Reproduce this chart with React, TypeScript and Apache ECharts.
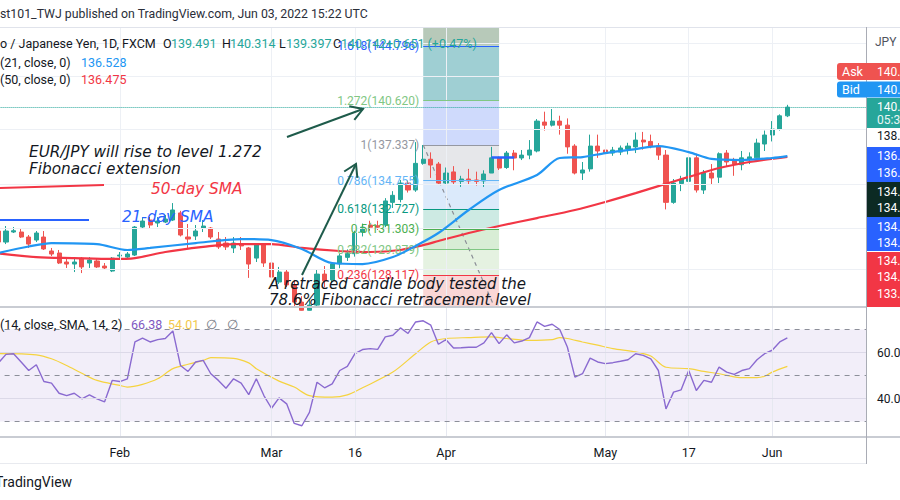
import React, { useEffect, useRef } from "react";
import * as echarts from "echarts";

// ---------------- data ----------------
const firstDay = "2022-01-10"; // first visible daily bar
const categoryCount = 115; // 105 bars + empty space on the right

// [open, high, low, close] – one row per trading day from Jan 10 to Jun 3 2022
const ohlc: number[][] = [
  [131.18, 131.39, 130.2, 130.41], [130.41, 131.53, 130.27, 131.18], [131.11, 131.46, 131.04, 131.2],
  [131.11, 131.39, 130.69, 130.76], [130.76, 130.9, 130.0, 130.27], [130.55, 131.18, 130.41, 131.04],
  [130.76, 131.18, 129.86, 129.93], [129.79, 130.0, 129.44, 129.58], [129.65, 129.86, 128.89, 128.96],
  [129.03, 129.3, 128.62, 128.89], [128.89, 129.24, 128.34, 129.03], [129.3, 129.37, 128.27, 128.69],
  [128.96, 129.37, 128.62, 129.17], [129.1, 129.3, 128.62, 128.69], [128.75, 128.96, 128.48, 128.62],
  [128.41, 129.37, 128.34, 129.3], [129.44, 129.72, 129.17, 129.51], [129.37, 129.72, 129.3, 129.58],
  [129.51, 131.53, 129.44, 131.46], [131.46, 132.16, 131.32, 131.88], [131.95, 132.16, 131.32, 131.6],
  [131.74, 132.16, 131.46, 131.88], [131.81, 132.3, 131.74, 132.02], [131.95, 133.15, 131.88, 132.66],
  [132.45, 132.6, 130.8, 130.9], [130.76, 131.67, 130.0, 130.62], [130.83, 131.6, 130.55, 131.18],
  [131.39, 131.95, 131.11, 131.53], [131.39, 131.46, 130.62, 130.76], [130.62, 131.11, 129.93, 130.07],
  [130.34, 130.76, 129.86, 130.07], [130.0, 130.76, 129.65, 130.34], [130.27, 130.76, 129.86, 130.14],
  [130.0, 130.07, 127.94, 128.89], [129.3, 130.34, 129.03, 130.27], [130.27, 130.27, 128.69, 128.96],
  [128.96, 129.03, 127.87, 128.0], [127.66, 128.69, 127.53, 128.34], [128.34, 128.48, 127.32, 127.46],
  [127.46, 127.8, 125.77, 126.3], [126.3, 126.7, 124.4, 125.75], [125.75, 126.5, 125.0, 126.1],
  [126.1, 128.5, 125.9, 128.2], [128.2, 128.75, 127.3, 127.75], [127.8, 129.0, 127.6, 128.9],
  [128.9, 129.6, 128.6, 129.45], [129.35, 129.9, 129.1, 129.65], [129.6, 131.2, 129.4, 131.04],
  [131.1, 131.7, 130.8, 131.45], [131.6, 131.9, 131.2, 131.45], [131.55, 131.9, 131.25, 131.45],
  [131.6, 133.5, 131.45, 133.3], [133.2, 134.0, 132.8, 133.7], [133.4, 134.8, 133.2, 134.58],
  [134.58, 134.75, 133.9, 134.08], [134.08, 137.55, 133.95, 136.0], [136.0, 137.337, 135.9, 136.3],
  [136.3, 136.8, 134.95, 135.88], [135.95, 136.1, 134.44, 134.58], [134.58, 135.7, 134.44, 135.3],
  [135.38, 135.8, 134.5, 134.66], [134.7, 135.1, 134.3, 134.87], [134.87, 135.6, 134.5, 134.73],
  [134.8, 135.4, 134.4, 134.7], [134.73, 135.5, 134.3, 135.23], [135.3, 137.2, 135.3, 136.4],
  [136.39, 136.5, 135.52, 135.66], [135.7, 136.9, 135.6, 136.75], [136.75, 136.97, 135.5, 136.39],
  [136.39, 136.97, 136.24, 136.6], [136.6, 137.7, 136.3, 136.97], [136.9, 139.25, 136.8, 139.1],
  [139.03, 139.8, 138.4, 138.8], [138.8, 140.0, 138.7, 139.1], [139.1, 139.5, 138.1, 138.8],
  [138.8, 139.3, 136.7, 137.2], [137.26, 137.4, 135.2, 135.3], [135.3, 136.1, 134.8, 135.52],
  [135.6, 138.1, 135.4, 137.26], [137.26, 138.1, 136.4, 136.9], [136.97, 137.4, 136.6, 136.75],
  [136.75, 137.2, 136.55, 136.97], [136.82, 137.3, 136.6, 137.12], [137.04, 137.5, 136.65, 137.26],
  [137.2, 138.26, 136.75, 137.7], [137.7, 138.3, 137.0, 137.56], [137.6, 138.1, 137.1, 137.26],
  [137.26, 137.48, 136.25, 136.6], [136.6, 136.97, 132.7, 133.2], [133.2, 134.87, 133.1, 134.58],
  [134.55, 135.1, 134.0, 134.87], [134.7, 136.6, 134.5, 136.4], [136.4, 136.7, 133.9, 134.08],
  [134.08, 135.52, 133.8, 135.3], [135.3, 135.95, 134.5, 134.94], [135.0, 136.8, 134.58, 136.7],
  [136.75, 136.97, 135.8, 136.1], [136.24, 136.4, 135.1, 135.95], [135.9, 136.9, 135.5, 136.4],
  [136.3, 136.8, 135.95, 136.47], [136.4, 137.8, 136.3, 137.48], [137.41, 138.4, 136.9, 138.07],
  [138.07, 139.1, 137.6, 138.51], [138.5, 139.6, 138.4, 139.491], [139.491, 140.314, 139.397, 140.142],
];

// 21-day and 50-day SMA, read at [bar index, value]
const sma21Points: number[][] = [
  [0, 129.65], [4, 130.1], [7, 130.34], [13, 130.27], [17, 129.86], [20, 130.0], [26, 130.34], [32, 130.62],
  [36, 130.55], [40, 129.93], [44, 128.96], [48, 128.89], [52, 129.37], [55, 130.14], [58, 131.04],
  [62, 132.66], [66, 134.08], [71, 135.16], [74, 136.39], [77, 136.46], [80, 136.75], [84, 137.04],
  [87, 137.26], [91, 136.82], [94, 136.32], [98, 136.24], [102, 136.39], [104, 136.528],
];
const sma50Points: number[][] = [
  [0, 129.62], [5, 129.37], [10, 129.3], [15, 129.24], [18, 129.3], [22, 129.72], [27, 130.07],
  [31, 130.27], [36, 130.27], [40, 130.0], [45, 129.79], [49, 129.72], [53, 129.86], [56, 130.2],
  [58, 130.48], [62, 131.04], [66, 131.53], [71, 132.09], [76, 132.66], [80, 133.23], [84, 133.86],
  [87, 134.36], [91, 135.02], [95, 135.66], [99, 136.1], [104, 136.475],
];

// RSI(14), one value per bar
const rsiValues: number[] = [
  55.5, 59.2, 59.5, 55.9, 52.2, 54.7, 47.4, 46.7, 42.3, 41.3, 42.3, 39.9, 41.6, 39.9, 38.6, 47.9,
  47.4, 48.6, 64.6, 66.3, 64.6, 65.6, 66.1, 69.4, 54.4, 51.8, 55.9, 56.6, 50.8, 47.9, 44.5, 48.6,
  46.7, 41.7, 48.6, 41.3, 35.8, 40.3, 37.7, 29.2, 28.2, 34.0, 47.1, 44.7, 46.4, 52.2, 54.0, 59.5,
  61.3, 61.7, 61.4, 66.8, 67.5, 70.7, 68.3, 73.3, 73.8, 71.9, 63.6, 65.6, 62.0, 62.1, 62.3, 62.3,
  64.2, 68.7, 63.9, 67.7, 64.2, 65.0, 66.5, 73.3, 71.4, 72.3, 70.0, 62.4, 49.3, 50.8, 57.6, 55.9,
  55.2, 55.6, 56.2, 56.9, 59.5, 58.8, 57.3, 52.2, 35.5, 42.8, 43.8, 52.2, 43.5, 47.9, 47.1, 53.7,
  51.5, 50.5, 52.2, 53.0, 56.9, 59.5, 61.0, 64.6, 66.38,
];
// RSI-based SMA(14), read at [bar index, value]
const rsiMaPoints: number[][] = [
  [0, 59.5], [5, 59.0], [7, 57.3], [9, 54.4], [11, 51.0], [13, 47.9], [16, 45.7], [17, 45.0],
  [19, 46.2], [21, 48.6], [23, 53.0], [25, 54.9], [27, 56.6], [28, 57.8], [31, 57.5], [33, 55.5],
  [34, 53.0], [37, 47.6], [39, 45.0], [41, 41.3], [44, 40.6], [46, 41.6], [48, 44.7], [52, 51.5],
  [55, 59.5], [57, 64.6], [59, 66.1], [62, 66.5], [65, 66.8], [67, 66.1], [70, 65.3], [73, 65.6],
  [74, 66.5], [75, 66.1], [77, 64.6], [79, 63.2], [81, 61.7], [84, 60.3], [86, 58.5], [88, 53.6],
  [91, 53.0], [93, 51.8], [95, 50.8], [96, 50.1], [98, 49.1], [100, 49.1], [101, 49.7], [102, 51.5],
  [104, 54.01],
];

const timeTicks: string[][] = [
  ["2022-02-01", "Feb"], ["2022-03-01", "Mar"], ["2022-03-16", "16"], ["2022-04-01", "Apr"],
  ["2022-05-02", "May"], ["2022-05-17", "17"], ["2022-06-01", "Jun"],
];

const priceMin = 125.97;
const priceMax = 146.26;
const priceGrid = [128.5, 131.4, 134.5, 138.5, 142.5, 145.0];
const priceTicks = [138];
const rsiMin = 23.3;
const rsiMax = 79.8;
const rsiDashed = [70, 50, 30];
const rsiSolid = [60, 40];
const rsiTicks = [40, 60];
const askPrice = 140.157;

const fibStart = "2022-03-29";
const fibEnd = "2022-04-12";
const fibLevels = [1.618, 1.272, 1, 0.786, 0.618, 0.5, 0.382, 0.236, 0];
const fibPrices = [144.796, 140.62, 137.337, 134.755, 132.727, 131.303, 129.879, 128.117, 125.269];
const fibLineColors = ["#2962ff", "#81c784", "#9598a1", "#64b5f6", "#089981", "#4caf50", "#81c784", "#f23645", "#787b86"];
const fibFillColors = ["#b7c9b9", "#9fcfd3", "#cfdafc", "#e6e7ea", "#dbeafb", "#cdeae3", "#d8edd5", "#e5f2e1", "#fad7d6"];
const blueSegment = { from: "2022-04-11", to: "2022-04-14", price: 136.48 };

// ---------------- helpers ----------------
function buildDates(start: string, n: number): string[] {
  const out: string[] = [];
  const d = new Date(start + "T00:00:00Z");
  while (out.length < n) {
    const wd = d.getUTCDay();
    if (wd !== 0 && wd !== 6) out.push(d.toISOString().slice(0, 10));
    d.setUTCDate(d.getUTCDate() + 1);
  }
  return out;
}

const UI_FONT = "Roboto, 'Liberation Sans', sans-serif";
const NOTE_FONT = "'DejaVu Sans', sans-serif";
const UP = "#26a69a";
const DOWN = "#ef5350";

function txt(text: string, x: number, y: number, style: any = {}) {
  return {
    type: "text",
    x,
    y,
    z: 100,
    silent: true,
    style: { text, fontFamily: UI_FONT, fontSize: 12.5, fill: "#131722", verticalAlign: "middle", align: "left", ...style },
  };
}
function seg(x1: number, y1: number, x2: number, y2: number, stroke: string, lineWidth = 1, z = 100) {
  return { type: "line", z, silent: true, shape: { x1, y1, x2, y2 }, style: { stroke, lineWidth } };
}
function arrow(x1: number, y1: number, x2: number, y2: number, color: string) {
  const ang = Math.atan2(y2 - y1, x2 - x1);
  const L = 14;
  const a = 0.55;
  const p1 = [x2 - L * Math.cos(ang - a), y2 - L * Math.sin(ang - a)];
  const p2 = [x2 - L * Math.cos(ang + a), y2 - L * Math.sin(ang + a)];
  return [
    seg(x1, y1, x2, y2, color, 2),
    { type: "polyline", z: 100, silent: true, shape: { points: [p1, [x2, y2], p2] }, style: { stroke: color, lineWidth: 2, fill: null } },
  ];
}
function box(x: number, y: number, w: number, h: number, fill: string, r: any = 0) {
  return { type: "rect", z: 100, silent: true, shape: { x, y, width: w, height: h, r }, style: { fill } };
}

export default function App() {
  const ref = useRef<HTMLDivElement>(null);

  useEffect(() => {
    if (!ref.current) return;
    const chart = echarts.init(ref.current, undefined, { renderer: "svg" });

    const dates = buildDates(firstDay, categoryCount);
    const tickMap = new Map(timeTicks.map((t) => [t[0], t[1]]));
    // candles: [open, close, low, high]; wicks below the visible pane are cut at its bottom edge
    const candles = ohlc.map((r) => [r[0], r[3], Math.max(r[2], priceMin), r[1]]);
    const last = ohlc[ohlc.length - 1];
    const prevClose = ohlc[ohlc.length - 2][3];
    const chg = last[3] - prevClose;
    const chgPct = (chg / prevClose) * 100;
    const sma21Last = sma21Points[sma21Points.length - 1][1];
    const sma50Last = sma50Points[sma50Points.length - 1][1];
    const rsiLast = rsiValues[rsiValues.length - 1];
    const rsiMaLast = rsiMaPoints[rsiMaPoints.length - 1][1];

    const vGrid = timeTicks.map((t) => ({ xAxis: t[0], lineStyle: { color: "#edf0f5", width: 1, type: "solid" } }));
    const hGrid = priceGrid.map((p) => ({ yAxis: p, lineStyle: { color: "#edf0f5", width: 1, type: "solid" } }));

    const fibAreas = fibPrices.map((p, i) => {
      const upper = i === 0 ? priceMax : fibPrices[i - 1];
      const lower = Math.max(p, priceMin);
      return [
        { coord: [fibStart, upper], itemStyle: { color: fibFillColors[i], opacity: 1 } },
        { coord: [fibEnd, lower] },
      ];
    });

    const fibLines = fibLevels
      .map((lvl, i) => ({ lvl, price: fibPrices[i], color: fibLineColors[i] }))
      .filter((f) => f.price >= priceMin && f.price <= priceMax)
      .map((f) => [
        {
          coord: [fibStart, f.price],
          lineStyle: { color: f.color, width: 1, type: "solid" },
          label: {
            show: true,
            position: "start",
            formatter: `${f.lvl}(${f.price.toFixed(3)})`,
            color: f.color,
            fontSize: 12,
            fontFamily: UI_FONT,
            distance: 4,
            padding: [0, 0, 13, 0],
          },
        },
        { coord: [fibEnd, f.price] },
      ]);

    const option: any = {
      animation: false,
      backgroundColor: "#ffffff",
      textStyle: { fontFamily: UI_FONT },
      grid: [
        { left: -5.4, top: 27, width: 872.4, height: 280, containLabel: false, outerBoundsMode: "none" },
        { left: -5.4, top: 307, width: 872.4, height: 130, containLabel: false, outerBoundsMode: "none" },
      ],
      xAxis: [
        {
          type: "category", gridIndex: 0, data: dates, boundaryGap: true,
          axisLine: { show: false }, axisTick: { show: false }, axisLabel: { show: false }, splitLine: { show: false },
        },
        {
          type: "category", gridIndex: 1, data: dates, boundaryGap: true,
          axisLine: { show: false }, axisTick: { show: false }, splitLine: { show: false },
          axisLabel: {
            interval: (_i: number, v: string) => tickMap.has(v),
            formatter: (v: string) => tickMap.get(v) || "",
            color: "#131722", fontSize: 12.5, margin: 9, fontFamily: UI_FONT,
          },
        },
      ],
      yAxis: [
        {
          type: "log", gridIndex: 0, min: priceMin, max: priceMax, position: "right",
          axisLine: { show: false }, axisTick: { show: false }, splitLine: { show: false },
          axisLabel: {
            customValues: priceTicks, inside: false, margin: 10, color: "#131722", fontSize: 12,
            formatter: (v: number) => v.toFixed(3),
          },
        },
        {
          type: "value", gridIndex: 1, min: rsiMin, max: rsiMax, position: "right",
          axisLine: { show: false }, axisTick: { show: false }, splitLine: { show: false },
          axisLabel: {
            customValues: rsiTicks, margin: 10, color: "#131722", fontSize: 12,
            formatter: (v: number) => v.toFixed(2),
          },
        },
      ],
      series: [
        {
          name: "priceGrid", type: "line", xAxisIndex: 0, yAxisIndex: 0, data: [], silent: true, z: 0,
          markLine: { silent: true, symbol: ["none", "none"], label: { show: false }, data: [...vGrid, ...hGrid] },
          markArea: { silent: true, data: fibAreas },
        },
        {
          name: "fibTrend", type: "line", xAxisIndex: 0, yAxisIndex: 0, z: 2, symbol: "none", silent: true, clip: true,
          data: [[fibStart, fibPrices[2]], [fibEnd, fibPrices[8]]],
          lineStyle: { color: "#8a8d96", type: [4, 4], width: 1.2 },
        },
        {
          name: "EURJPY", type: "candlestick", xAxisIndex: 0, yAxisIndex: 0, data: candles, barWidth: 4.6, z: 3,
          clip: true,
          itemStyle: { color: UP, color0: DOWN, borderColor: UP, borderColor0: DOWN, borderWidth: 1 },
          markLine: {
            silent: true, symbol: ["none", "none"], label: { show: false },
            data: [
              { yAxis: last[3], lineStyle: { color: UP, type: "dotted", width: 1 }, label: { show: false } },
              ...fibLines,
              [
                { coord: [blueSegment.from, blueSegment.price], lineStyle: { color: "#2962ff", type: "solid", width: 2.5 } },
                { coord: [blueSegment.to, blueSegment.price] },
              ],
            ],
          },
        },
        {
          name: "SMA50", type: "line", xAxisIndex: 0, yAxisIndex: 0, z: 4, smooth: 0.3, symbol: "none",
          data: sma50Points.map((p) => [dates[p[0]], p[1]]),
          lineStyle: { color: "#f23645", width: 2.2 },
        },
        {
          name: "SMA21", type: "line", xAxisIndex: 0, yAxisIndex: 0, z: 5, smooth: 0.3, symbol: "none",
          data: sma21Points.map((p) => [dates[p[0]], p[1]]),
          lineStyle: { color: "#2196f3", width: 2.2 },
        },
        {
          name: "rsiGrid", type: "line", xAxisIndex: 1, yAxisIndex: 1, data: [], silent: true, z: 0,
          markArea: { silent: true, data: [[{ yAxis: 30, itemStyle: { color: "rgba(126,87,194,0.1)" } }, { yAxis: 70 }]] },
          markLine: {
            silent: true, symbol: ["none", "none"], label: { show: false },
            data: [
              ...timeTicks.map((t) => ({ xAxis: t[0], lineStyle: { color: "#e6e8f0", width: 1, type: "solid" } })),
              ...rsiSolid.map((v) => ({ yAxis: v, lineStyle: { color: "#dcd9e8", width: 1, type: "solid" } })),
              ...rsiDashed.map((v) => ({ yAxis: v, lineStyle: { color: "#8c8f99", width: 1, type: [5, 5] } })),
            ],
          },
        },
        {
          name: "RSI", type: "line", xAxisIndex: 1, yAxisIndex: 1, z: 4, symbol: "none",
          data: rsiValues.map((v, i) => [dates[i], v]),
          lineStyle: { color: "#8a6ad0", width: 1.4 },
        },
        {
          name: "RSI MA", type: "line", xAxisIndex: 1, yAxisIndex: 1, z: 3, symbol: "none", smooth: 0.3,
          data: rsiMaPoints.map((p) => [dates[p[0]], p[1]]),
          lineStyle: { color: "#f5d33f", width: 1.2 },
        },
      ],
      graphic: [
        // frame
        seg(0, 27.5, 900, 27.5, "#e0e3eb", 1),
        seg(0, 307, 866, 307, "#c9ccd3", 2),
        seg(0, 437, 900, 437, "#c9ccd3", 2),
        seg(0, 463.5, 866, 463.5, "#e8eaef", 1),
        seg(866.5, 27, 866.5, 464, "#a9acb5", 1),
        // header
        txt("st101_TWJ published on TradingView.com, Jun 03, 2022 15:22 UTC", 0, 14, { fontSize: 12.3, fill: "#2a2e39" }),
        txt("o / Japanese Yen, 1D, FXCM", 0, 43),
        txt("O", 163, 43), txt(last[0].toFixed(3), 171, 43, { fill: UP }),
        txt("H", 222, 43), txt(last[1].toFixed(3), 230, 43, { fill: UP }),
        txt("L", 279, 43), txt(last[2].toFixed(3), 286, 43, { fill: UP }),
        txt("C", 333, 43), txt(last[3].toFixed(3), 341, 43, { fill: UP }),
        txt(`+${chg.toFixed(3)} (+${chgPct.toFixed(2)}%)`, 386, 43, { fill: UP }),
        txt("(21, close, 0)", 0, 62), txt(sma21Last.toFixed(3), 81, 62, { fill: "#2196f3" }),
        txt("(50, close, 0)", 0, 79), txt(sma50Last.toFixed(3), 81, 79, { fill: "#f23645" }),
        txt("(14, close, SMA, 14, 2)", 0, 324),
        txt(rsiLast.toFixed(2), 131, 324, { fill: "#7e57c2" }),
        txt(rsiMaLast.toFixed(2), 168, 324, { fill: "#f2c94c" }),
        txt("∅", 206, 324, { fill: "#787b86" }),
        txt("∅", 227, 324, { fill: "#787b86" }),
        txt("TradingView", -5, 482, { fontSize: 14, fill: "#131722" }),
        // annotations
        txt("EUR/JPY will rise to level 1.272", 29, 152, { fontFamily: NOTE_FONT, fontStyle: "italic", fontSize: 15.3 }),
        txt("Fibonacci extension", 29, 169, { fontFamily: NOTE_FONT, fontStyle: "italic", fontSize: 15.3 }),
        txt("50-day SMA", 151, 189, { fontFamily: NOTE_FONT, fontStyle: "italic", fontSize: 15.3, fill: "#f23645" }),
        txt("21-day SMA", 122, 217, { fontFamily: NOTE_FONT, fontStyle: "italic", fontSize: 15.3, fill: "#2962ff" }),
        txt("A retraced candle body tested the", 269, 284, { fontFamily: NOTE_FONT, fontStyle: "italic", fontSize: 15 }),
        txt("78.6% Fibonacci retracement level", 269, 300, { fontFamily: NOTE_FONT, fontStyle: "italic", fontSize: 15 }),
        seg(0, 188, 104, 185, "#f23645", 2),
        seg(0, 220, 89, 220, "#2962ff", 2),
        ...arrow(287, 137, 363, 109, "#1e5b4b"),
        ...arrow(302, 275, 356, 164, "#1e5b4b"),
        // right price scale
        txt("JPY", 875, 42, { fill: "#50535e", fontSize: 12 }),
        box(837, 63, 80, 17, "#ef5350", [3, 0, 0, 3]),
        txt("Ask", 842, 71.5, { fill: "#ffffff", fontSize: 12.5 }),
        txt(askPrice.toFixed(3), 877, 71.5, { fill: "#ffffff", fontSize: 12 }),
        box(837, 81.5, 80, 16, "#2196f3", [3, 0, 0, 3]),
        txt("Bid", 842, 89.5, { fill: "#ffffff", fontSize: 12.5 }),
        txt(last[3].toFixed(3), 877, 89.5, { fill: "#ffffff", fontSize: 12 }),
        box(867, 98, 40, 30, UP),
        txt(last[3].toFixed(3), 877, 107, { fill: "#ffffff", fontSize: 12 }),
        txt("05:37:27", 877, 119.5, { fill: "#e9f6f4", fontSize: 12 }),
        box(867, 147, 40, 35, "#2962ff"),
        txt(sma21Last.toFixed(3), 877, 155.5, { fill: "#ffffff", fontSize: 12 }),
        txt(sma50Last.toFixed(3), 877, 173, { fill: "#ffffff", fontSize: 12 }),
        box(867, 182, 40, 35, "#0c2a23"),
        txt(fibPrices[3].toFixed(3), 877, 192, { fill: "#ffffff", fontSize: 12 }),
        txt("134.712", 877, 208, { fill: "#ffffff", fontSize: 12 }),
        box(867, 217, 40, 34, "#2962ff"),
        txt("134.412", 877, 227, { fill: "#ffffff", fontSize: 12 }),
        txt("134.095", 877, 243, { fill: "#ffffff", fontSize: 12 }),
        box(867, 252, 40, 55, "#f23645"),
        txt("134.288", 877, 260.5, { fill: "#ffffff", fontSize: 12 }),
        txt("134.010", 877, 277, { fill: "#ffffff", fontSize: 12 }),
        txt("133.690", 877, 293.5, { fill: "#ffffff", fontSize: 12 }),
      ],
    };

    chart.setOption(option);
    return () => chart.dispose();
  }, []);

  return (
    <div style={{ position: "absolute", left: 0, top: 0, width: 900, height: 500, overflow: "hidden", background: "#fff" }}>
      <div ref={ref} style={{ width: 960, height: 500 }} />
    </div>
  );
}
